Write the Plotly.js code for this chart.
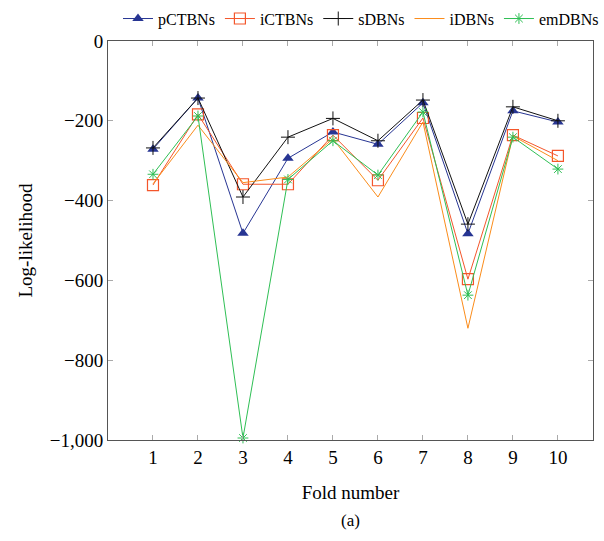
<!DOCTYPE html>
<html>
<head>
<meta charset="utf-8">
<script src="https://cdn.plot.ly/plotly-3.0.1.min.js"></script>
<style>html,body{margin:0;padding:0;background:#fff;}#chart{width:604px;height:541px;}</style>
</head>
<body>
<div id="chart"></div>
<script>
const folds = [1, 2, 3, 4, 5, 6, 7, 8, 9, 10];
const pCTBNs = [-271, -143, -482, -294, -228, -259, -155, -483, -175, -203];
const iCTBNs = [-361, -184, -359, -359, -236, -349, -193, -597, -236, -288];
const sDBNs  = [-268, -143, -391, -241, -194, -250, -148, -459, -165, -200];
const iDBNs  = [-358, -211, -355, -341, -245, -391, -203, -720, -238, -300];
const emDBNs = [-334, -188, -995, -347, -250, -336, -178, -637, -241, -321];
const yTicks = [0, -200, -400, -600, -800, -1000];

const traces = [
  {name: 'pCTBNs', y: pCTBNs, color: '#273593', marker: {symbol: 'triangle-up', size: 10}},
  {name: 'iCTBNs', y: iCTBNs, color: '#f4562b', marker: {symbol: 'square-open', size: 11, line: {width: 1.2}}},
  {name: 'sDBNs', y: sDBNs, color: '#111111', marker: {symbol: 'cross-thin-open', size: 10, line: {width: 1}}},
  {name: 'iDBNs', y: iDBNs, color: '#fb8c1a', marker: null},
  {name: 'emDBNs', y: emDBNs, color: '#2fbf55', marker: {symbol: 'asterisk-open', size: 9, line: {width: 1}}}
].map(t => {
  const tr = {
    type: 'scatter', x: folds, y: t.y, name: t.name,
    mode: t.marker ? 'lines+markers' : 'lines',
    line: {color: t.color, width: 1},
    cliponaxis: false
  };
  if (t.marker) {
    tr.marker = Object.assign({color: t.color}, t.marker);
    if (tr.marker.line) tr.marker.line.color = t.color;
  }
  return tr;
});

const serif = '"Liberation Serif", "DejaVu Serif", serif';
const layout = {
  width: 604, height: 541,
  margin: {l: 108, r: 11, t: 41, b: 101},
  paper_bgcolor: '#fff', plot_bgcolor: '#fff',
  font: {family: serif, color: '#000', size: 17},
  showlegend: true,
  legend: {orientation: 'h', x: 1, xanchor: 'right', xref: 'container', yref: 'container',
           y: 0.997, yanchor: 'top',
           font: {family: serif, size: 16}, itemwidth: 30, tracegroupgap: 0,
           bgcolor: 'rgba(0,0,0,0)'},
  xaxis: {
    range: [0, 10.78], tickvals: folds, showgrid: false, zeroline: false, automargin: false,
    ticks: 'inside', ticklen: 5, tickcolor: '#aaa', mirror: 'allticks',
    showline: true, linecolor: '#555', linewidth: 1,
    tickfont: {family: serif, size: 19, color: '#000'},
    title: {text: 'Fold number', font: {family: serif, size: 19}, standoff: 18}
  },
  yaxis: {
    range: [-1000, 0], tickvals: yTicks, tickformat: ',d', showgrid: false, zeroline: false, automargin: false,
    ticks: 'inside', ticklen: 5, tickcolor: '#aaa', mirror: 'allticks',
    showline: true, linecolor: '#555', linewidth: 1,
    tickfont: {family: serif, size: 19, color: '#000'},
    title: {text: 'Log-likelihood', font: {family: serif, size: 19}, standoff: 12}
  },
  separators: '.,',
  annotations: [{
    text: '(a)', xref: 'paper', yref: 'paper', x: 0.5, y: -0.203, yanchor: 'middle',
    showarrow: false, font: {family: serif, size: 17}
  }]
};

Plotly.newPlot('chart', traces, layout, {displayModeBar: false, staticPlot: true});
</script>
</body>
</html>
